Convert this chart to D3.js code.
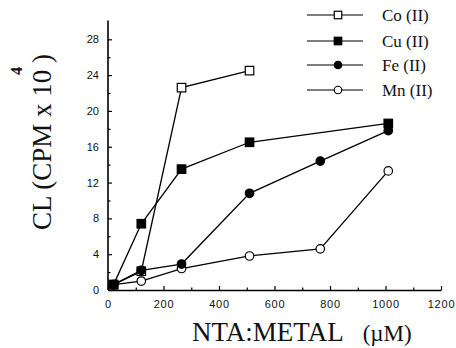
<!DOCTYPE html>
<html><head><meta charset="utf-8">
<script src="https://cdn.jsdelivr.net/npm/d3@7"></script>
<style>body{margin:0;background:#fff}svg{display:block}
.serif{font-family:"Liberation Serif","Times New Roman","DejaVu Serif",serif}
.sans{font-family:"Liberation Sans",Arial,"DejaVu Sans",sans-serif}</style>
</head><body><svg id="c" width="456" height="348"></svg>
<script>
const xValues = [20, 120, 265, 510, 765, 1010];
const coValues = [0.6, 2.1, 22.6, 24.5];
const cuValues = [0.6, 7.4, 13.5, 16.5, null, 18.6];
const feValues = [0.6, 2.2, 2.9, 10.8, 14.4, 17.8];
const mnValues = [0.6, 1.0, 2.4, 3.8, 4.6, 13.3];
const seriesNames = ["Co (II)", "Cu (II)", "Fe (II)", "Mn (II)"];
const markerTypes = ["squareOpen", "squareFilled", "circleFilled", "circleOpen"];
const xTicks = [0, 200, 400, 600, 800, 1000, 1200];
const yTicks = [0, 4, 8, 12, 16, 20, 24, 28];

const svg = d3.select("#c");
const x = d3.scaleLinear().domain([0, 1200]).range([108, 441]);
const y = d3.scaleLinear().domain([0, 28]).range([290, 39.3]);

// axes
const xAxis = d3.axisBottom(x).tickValues(xTicks).tickFormat(d3.format("d")).tickSize(-4).tickSizeOuter(0).tickPadding(10);
const gx = svg.append("g").attr("transform", "translate(0,290)").call(xAxis);
const gxm = svg.append("g").attr("transform", "translate(0,290)")
  .call(d3.axisBottom(x).tickValues(d3.range(100, 1200, 200)).tickSize(-2.5).tickFormat("").tickSizeOuter(0));
gxm.select(".domain").remove();
const yAxis = d3.axisLeft(y).tickValues(yTicks).tickSize(-4).tickSizeOuter(0).tickPadding(9);
const gy = svg.append("g").attr("transform", "translate(108,0)").call(yAxis);
gy.select(".domain").attr("d", `M0,${y(0)}V${y(30.1)}`);
const gym = svg.append("g").attr("transform", "translate(108,0)")
  .call(d3.axisLeft(y).tickValues(d3.range(2, 30, 4)).tickSize(-2.5).tickFormat("").tickSizeOuter(0));
gym.select(".domain").remove();
[gx, gy, gxm, gym].forEach(g => {
  g.attr("font-family", null).attr("font-size", null);
  g.selectAll(".domain").attr("stroke", "#000").attr("stroke-width", 1.6);
  g.selectAll(".tick line").attr("stroke", "#000").attr("stroke-width", 1.2);
  g.selectAll("text").attr("class", "sans").attr("font-size", 11).attr("fill", "#111");
});
gx.selectAll("text").attr("letter-spacing", 0.8);

// series
const data = [coValues, cuValues, feValues, mnValues];
const line = d3.line().x(d => x(d[0])).y(d => y(d[1]));

function marker(g, type, cx, cy, s) {
  if (type.startsWith("square")) {
    g.append("rect").attr("x", cx - s / 2).attr("y", cy - s / 2).attr("width", s).attr("height", s)
      .attr("fill", type === "squareFilled" ? "#000" : "#fff").attr("stroke", "#000").attr("stroke-width", 1.2);
  } else {
    g.append("circle").attr("cx", cx).attr("cy", cy).attr("r", s / 2)
      .attr("fill", type === "circleFilled" ? "#000" : "#fff").attr("stroke", "#000").attr("stroke-width", 1.2);
  }
}

[3, 2, 1, 0].forEach(i => {
  const pts = data[i].map((v, j) => [xValues[j], v]).filter(d => d[1] != null);
  svg.append("path").datum(pts).attr("d", line).attr("fill", "none").attr("stroke", "#000").attr("stroke-width", 1.3);
});
[0, 3, 1, 2].forEach(i => {
  const g = svg.append("g");
  data[i].forEach((v, j) => {
    if (v == null) return;
    marker(g, markerTypes[i], x(xValues[j]), y(v), 8.5);
  });
});

// legend
const legY = [15, 41, 65, 90];
seriesNames.forEach((n, i) => {
  const g = svg.append("g");
  g.append("line").attr("x1", 307).attr("x2", 363).attr("y1", legY[i]).attr("y2", legY[i]).attr("stroke", "#000").attr("stroke-width", 1.2);
  marker(g, markerTypes[i], 338, legY[i], 7.5);
  g.append("text").attr("class", "serif").attr("x", 382).attr("y", legY[i] + 6).text(n)
    .attr("font-size", 17).attr("fill", "#111");
});

// axis titles
const xt = svg.append("text").attr("class", "serif").attr("x", 192).attr("y", 341).attr("fill", "#111");
xt.append("tspan").attr("font-size", 27).text("NTA:METAL");
xt.append("tspan").attr("font-size", 23).attr("dx", 19).text("(\u00b5M)");

svg.append("text").attr("class", "serif").attr("transform", "translate(51,230) rotate(-90)")
  .attr("font-size", 27).attr("fill", "#111")
  .text("CL (CPM x 10 )");
svg.append("text").attr("class", "serif").attr("transform", "translate(22,75) rotate(-90)")
  .attr("font-size", 16).attr("font-weight", "bold").attr("fill", "#111")
  .text("4");
</script></body></html>
